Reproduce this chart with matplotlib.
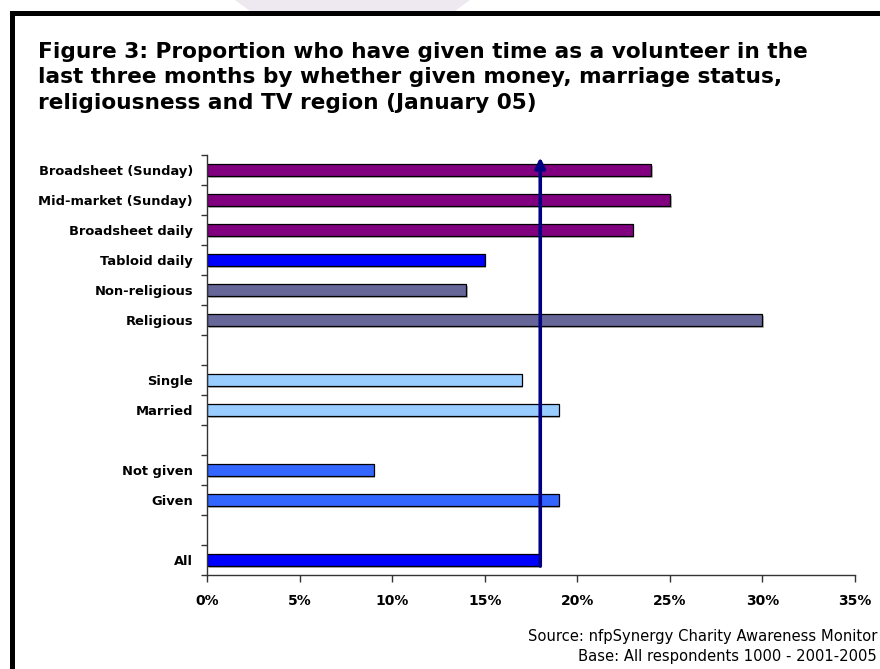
import matplotlib
matplotlib.use("Agg")
import matplotlib.pyplot as plt
from matplotlib.patches import Polygon, Rectangle
from matplotlib.ticker import FuncFormatter, MultipleLocator
import matplotlib.patheffects as pe

# Categories listed top to bottom; empty strings are spacer rows
categories = ["Broadsheet (Sunday)", "Mid-market (Sunday)", "Broadsheet daily",
              "Tabloid daily", "Non-religious", "Religious", "",
              "Single", "Married", "",
              "Not given", "Given", "",
              "All"]
values = [24, 25, 23, 15, 14, 30, None, 17, 19, None, 9, 19, None, 18]
colors = ["#800080", "#800080", "#800080", "#0000FF", "#666699", "#666699", None,
          "#99CCFF", "#99CCFF", None, "#3366FF", "#3366FF", None, "#0000FF"]
average_all = 18

title = ("Figure 3: Proportion who have given time as a volunteer in the\n"
         "last three months by whether given money, marriage status,\n"
         "religiousness and TV region (January 05)")
source_lines = ["Source: nfpSynergy Charity Awareness Monitor",
                "Base: All respondents 1000 - 2001-2005"]

W, H = 880, 669
fig = plt.figure(figsize=(W / 100, H / 100), dpi=100)
fig.patch.set_facecolor("white")

# pale decorative band at the very top
fig.patches.append(Polygon([(235 / W, 1), (470 / W, 1), (455 / W, 1 - 11 / H), (250 / W, 1 - 11 / H)],
                           closed=True, transform=fig.transFigure, facecolor="#eee9f0",
                           edgecolor="none", zorder=0))
# black frame on top and left
fig.patches.append(Rectangle((10 / W, 1 - 16 / H), 1 - 10 / W, 5 / H, transform=fig.transFigure,
                             facecolor="black", edgecolor="none", zorder=1))
fig.patches.append(Rectangle((10 / W, 0), 5 / W, 1 - 11 / H, transform=fig.transFigure,
                             facecolor="black", edgecolor="none", zorder=1))

fig.text(38 / W, 1 - 42 / H, title, ha="left", va="top", fontsize=15.6,
         fontweight="bold", family="DejaVu Sans", linespacing=1.33)

ax = fig.add_axes([207 / W, 1 - 575 / H, (855 - 207) / W, (575 - 155) / H])
positions = list(range(len(categories)))
for pos, val, col in zip(positions, values, colors):
    if val is None:
        continue
    ax.barh(pos, val, height=0.4, color=col, edgecolor="black", linewidth=0.9, zorder=2,
            path_effects=[pe.SimplePatchShadow(offset=(1.2, -1.2), shadow_rgbFace="#888888", alpha=0.6),
                          pe.Normal()])

ax.set_ylim(len(categories) - 0.5, -0.5)
ax.set_xlim(0, 35)
ax.set_yticks(positions)
ax.set_yticklabels(categories)
ax.set_yticks([p + 0.5 for p in range(-1, len(categories))], minor=True)
ax.xaxis.set_major_locator(MultipleLocator(5))
ax.xaxis.set_major_formatter(FuncFormatter(lambda v, _: f"{v:.0f}%"))

ax.tick_params(axis="y", which="major", length=0, pad=10, labelsize=9.4)
ax.tick_params(axis="y", which="minor", length=4, width=1, color="#333333", direction="out")
ax.tick_params(axis="x", length=5, width=1, color="#333333", direction="out", pad=9, labelsize=10)
for lbl in ax.get_yticklabels() + ax.get_xticklabels():
    lbl.set_fontweight("bold")
    lbl.set_family("DejaVu Sans")

for side in ("top", "right"):
    ax.spines[side].set_visible(False)
for side in ("left", "bottom"):
    ax.spines[side].set_color("#333333")
    ax.spines[side].set_linewidth(1)

# average line for all respondents
ax.annotate("", xy=(average_all, -0.42), xytext=(average_all, len(categories) - 1 + 0.2),
            arrowprops=dict(arrowstyle="-|>,head_length=0.6,head_width=0.3", color="#000080",
                            lw=2.6, shrinkA=0, shrinkB=0), zorder=3)

fig.text(877 / W, 1 - 637 / H, source_lines[0], ha="right", va="center", fontsize=10.6,
         family="DejaVu Sans")
fig.text(877 / W, 1 - 657 / H, source_lines[1], ha="right", va="center", fontsize=10.6,
         family="DejaVu Sans")

fig.savefig("out.png", dpi=100)
